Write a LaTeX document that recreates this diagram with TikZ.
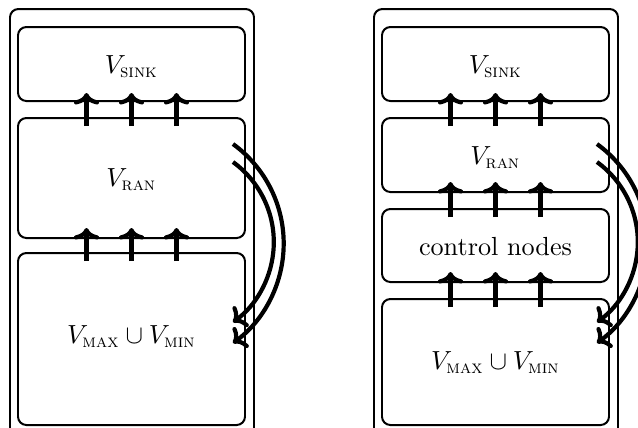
\documentclass[tikz,border=0pt]{standalone}
\usepackage{amsmath}
\usepackage{fontspec}
\usetikzlibrary{fit,calc,arrows.meta}
\tikzset{
  box/.style={draw, line width=0.76pt, rounded corners=3.2pt, inner sep=0pt},
  lbl/.style={inner sep=0pt, anchor=center},
  uparr/.style={line width=1.6pt, -{To[length=4.4pt,width=9.6pt]}},
  bendarr/.style={line width=1.6pt, -{To[length=4.4pt,width=9.6pt]}},
}
\begin{document}
\begin{tikzpicture}[x=0.382pt,y=0.382pt]
\useasboundingbox (0,0) rectangle (638,-427);
\clip (0,0) rectangle (638,-427);
% left panel
\node[box, fit={(10,-9) (254,-440)}] (outerL) {};
\node[box, fit={(18,-27) (245,-101)}] (sinkL) {};
\node[box, fit={(18,-118) (245,-238)}] (ranL) {};
\node[box, fit={(18,-253) (245,-425)}] (mmL) {};
\node[lbl] (tsinkL) at ($(sinkL.center)+(0,-3)$) {$V_{\textsc{sink}}$};
\node[lbl] (tranL) at ($(ranL.center)+(0,-2)$) {$V_{\textsc{ran}}$};
\node[lbl] (tmmL) at ($(mmL.center)+(0,2)$) {$V_{\textsc{max}}\cup V_{\textsc{min}}$};
\foreach \dx in {-45,0,45}{
  \draw[uparr] ($(ranL.north)+(\dx,-9)$) -- ($(sinkL.south)+(\dx,9)$);
  \draw[uparr] ($(mmL.north)+(\dx,-9)$) -- ($(ranL.south)+(\dx,11)$);
}
\coordinate (aL1) at ($(ranL.north east)+(-13,-27)$);
\coordinate (aL2) at ($(ranL.north east)+(-13,-45)$);
\draw[bendarr] (aL1) arc[start angle=54, end angle=-54, radius=123];
\draw[bendarr] (aL2) arc[start angle=54, end angle=-54, radius=99];
% right panel
\node[box, fit={(374,-9) (618,-440)}] (outerR) {};
\node[box, fit={(382,-27) (609,-101)}] (sinkR) {};
\node[box, fit={(382,-118) (609,-192)}] (ranR) {};
\node[box, fit={(382,-209) (609,-282)}] (ctrlR) {};
\node[box, fit={(382,-299) (609,-425)}] (mmR) {};
\node[lbl] (tsinkR) at ($(sinkR.center)+(0,-3)$) {$V_{\textsc{sink}}$};
\node[lbl] (tranR) at ($(ranR.center)+(0,-3)$) {$V_{\textsc{ran}}$};
\node[lbl] (tctrlR) at ($(ctrlR.center)+(0,-1)$) {control nodes};
\node[lbl] (tmmR) at ($(mmR.center)+(0,-1)$) {$V_{\textsc{max}}\cup V_{\textsc{min}}$};
\foreach \dx in {-45,0,45}{
  \draw[uparr] ($(ranR.north)+(\dx,-9)$) -- ($(sinkR.south)+(\dx,9)$);
  \draw[uparr] ($(ctrlR.north)+(\dx,-9)$) -- ($(ranR.south)+(\dx,11)$);
  \draw[uparr] ($(mmR.north)+(\dx,-9)$) -- ($(ctrlR.south)+(\dx,11)$);
}
\coordinate (aR1) at ($(ranR.north east)+(-13,-27)$);
\coordinate (aR2) at ($(ranR.north east)+(-13,-45)$);
\draw[bendarr] (aR1) arc[start angle=54, end angle=-54, radius=123];
\draw[bendarr] (aR2) arc[start angle=54, end angle=-54, radius=99];
\end{tikzpicture}
\end{document}
